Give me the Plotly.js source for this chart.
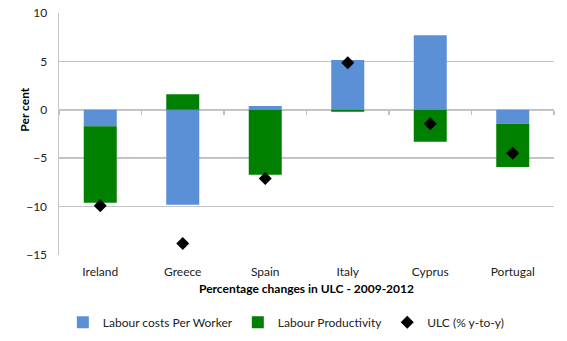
<!DOCTYPE html>
<html><head><meta charset="utf-8">
<script src="https://cdn.plot.ly/plotly-3.0.1.min.js"></script>
<style>html,body{margin:0;padding:0;background:#fff}#chart{width:567px;height:341px}</style>
</head><body><div id="chart"></div>
<script>
const countries = ["Ireland","Greece","Spain","Italy","Cyprus","Portugal"];
const labourCosts = [-1.7, -9.8, 0.4, 5.15, 7.7, -1.45];
const labourProductivity = [-7.9, 1.6, -6.7, -0.2, -3.3, -4.45];
const ulc = [-9.9, -13.8, -7.1, 4.85, -1.45, -4.5];
const yTicks = [10, 5, 0, -5, -10, -15];
const boundaries = [-0.5, 0.5, 1.5, 2.5, 3.5, 4.5, 5.5];

const font = "Lato, Open Sans, sans-serif";
const traces = [
  {type:"bar", name:"Labour costs Per Worker", x:countries, y:labourCosts,
   marker:{color:"#5B8FD6"}},
  {type:"bar", name:"Labour Productivity", x:countries, y:labourProductivity,
   marker:{color:"#007F00"}},
  {type:"scatter", mode:"markers", name:"ULC (% y-to-y)", x:countries, y:ulc,
   marker:{symbol:"diamond", color:"#000", size:10}},
  {type:"scatter", mode:"markers", x:boundaries, y:boundaries.map(()=>0), xaxis:"x2",
   showlegend:false, hoverinfo:"skip", marker:{opacity:0}}
];
const layout = {
  width:567, height:341,
  margin:{l:59, r:13, t:13, b:86},
  barmode:"relative", bargap:0.6,
  paper_bgcolor:"#fff", plot_bgcolor:"#fff",
  font:{family:font, size:12, color:"#222"},
  xaxis:{type:"category", showgrid:false, zeroline:false, showline:false, automargin:false,
    ticks:"", tickfont:{size:12}, ticklabelstandoff:8,
    title:{text:"<b>Percentage changes in ULC - 2009-2012</b>", font:{size:12, color:"#000"}, standoff:6}},
  xaxis2:{overlaying:"x", anchor:"free", position:0.6, range:[-0.5,5.5], automargin:false,
    tickvals:boundaries, ticks:"outside", ticklen:4, tickcolor:"#BFBFBF", tickwidth:1.5,
    showticklabels:false, showgrid:false, zeroline:false, showline:false},
  yaxis:{range:[-15,10], tickvals:yTicks, showgrid:true, gridcolor:"#C4C4C4", gridwidth:1.5,
    zeroline:true, zerolinecolor:"#C4C4C4", zerolinewidth:1.5, automargin:false,
    showline:true, linecolor:"#C4C4C4", linewidth:1.5,
    ticks:"", tickfont:{size:12}, ticklabelstandoff:8},
  annotations:[{text:"<b>Per cent</b>", xref:"paper", yref:"paper", x:-0.069, y:0.6,
    xanchor:"center", yanchor:"middle", textangle:-90, showarrow:false,
    font:{size:12, color:"#000"}}],
  legend:{orientation:"h", x:0.505, xref:"container", xanchor:"center",
    y:0.055, yref:"container", yanchor:"middle",
    font:{size:12}, traceorder:"normal", itemwidth:30},
  showlegend:true
};
Plotly.newPlot("chart", traces, layout, {staticPlot:true, displayModeBar:false});
</script></body></html>
